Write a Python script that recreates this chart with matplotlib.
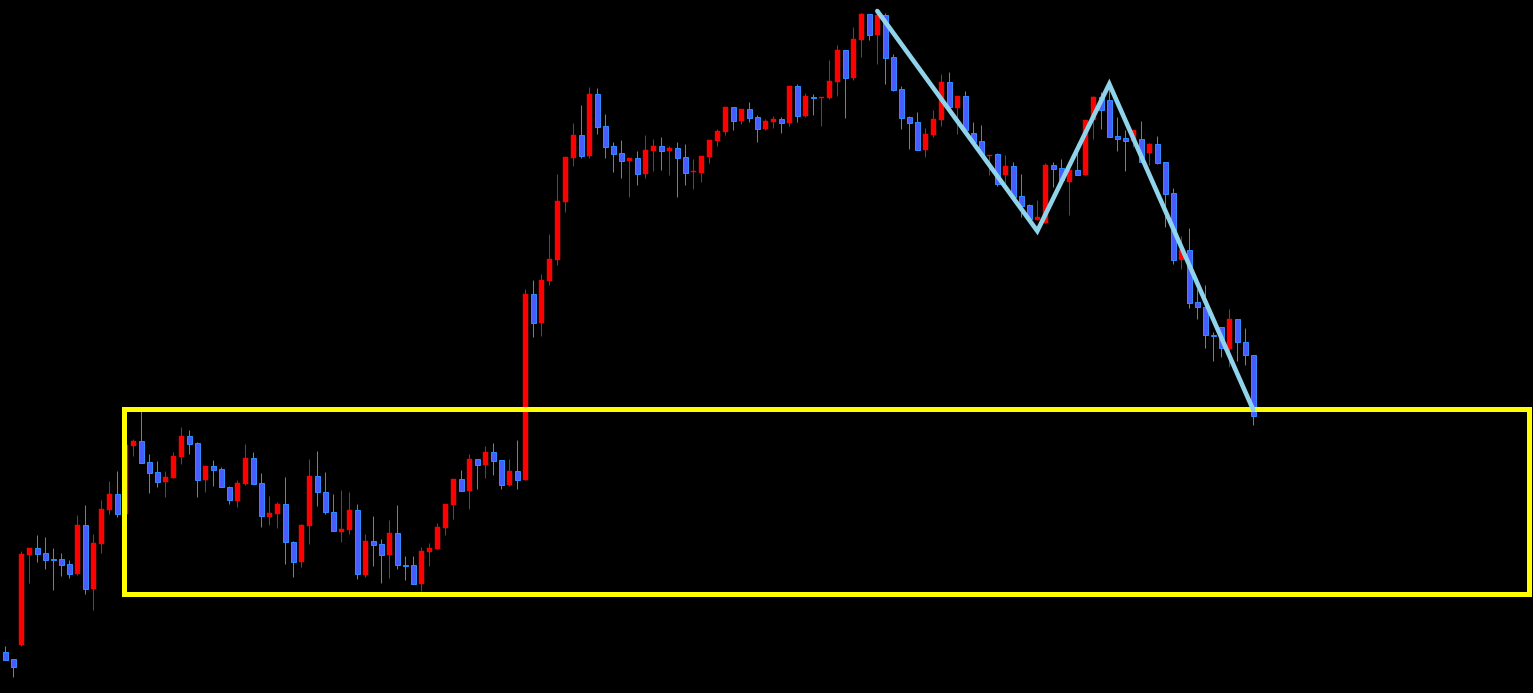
import matplotlib
matplotlib.use("Agg")
import matplotlib.pyplot as plt
from matplotlib.patches import Rectangle

# candle prices (arbitrary units), one entry per bar
opens = [41, 34, 48, 138, 145, 140, 134, 134, 129, 119,
         168, 104, 149, 183, 199, 179, 247, 252, 231, 221,
         211, 215, 236, 257, 250, 213, 227, 224, 206, 192,
         209, 235, 210, 176, 179, 189, 151, 131, 167, 217,
         201, 181, 161, 163, 183, 118, 152, 149, 138, 160,
         128, 128, 109, 141, 144, 165, 188, 214, 202, 234,
         228, 241, 233, 208, 222, 213, 399, 370, 412, 433,
         491, 535, 558, 537, 599, 567, 547, 540, 532, 535,
         519, 542, 547, 542, 545, 536, 521, 520, 536, 552,
         561, 586, 572, 584, 576, 564, 571, 574, 570, 607,
         577, 596, 595, 595, 611, 643, 615, 653, 679, 658,
         678, 636, 604, 576, 571, 543, 558, 573, 611, 585,
         597, 560, 552, 537, 539, 518, 527, 497, 488, 473,
         470, 528, 525, 511, 523, 518, 573, 596, 593, 557,
         555, 552, 554, 540, 549, 531, 500, 433, 443, 391,
         386, 358, 366, 344, 374, 351, 338]
highs = [47, 34, 142, 145, 158, 156, 145, 140, 133, 178,
         188, 159, 193, 212, 222, 253, 254, 282, 239, 232,
         222, 241, 266, 263, 251, 227, 233, 226, 207, 213,
         249, 241, 220, 197, 191, 216, 152, 169, 234, 242,
         221, 199, 203, 201, 189, 159, 177, 154, 173, 188,
         137, 137, 146, 150, 170, 189, 214, 223, 239, 234,
         247, 250, 233, 234, 253, 404, 413, 419, 459, 519,
         536, 570, 588, 606, 605, 579, 551, 553, 535, 542,
         558, 554, 556, 547, 551, 549, 534, 537, 553, 564,
         586, 586, 584, 591, 578, 574, 577, 576, 607, 609,
         600, 599, 596, 633, 648, 643, 666, 680, 679, 680,
         680, 639, 607, 577, 581, 565, 583, 619, 621, 597,
         602, 571, 568, 538, 540, 538, 531, 519, 489, 493,
         530, 531, 534, 523, 549, 573, 597, 601, 609, 576,
         563, 563, 572, 550, 557, 531, 505, 457, 465, 404,
         408, 361, 366, 384, 374, 365, 338]
lows = [33, 16, 47, 110, 131, 124, 103, 117, 115, 118,
        99, 83, 140, 179, 176, 178, 237, 230, 200, 206,
        196, 215, 229, 239, 196, 201, 207, 206, 189, 186,
        208, 209, 166, 168, 165, 129, 116, 126, 149, 187,
        179, 162, 151, 159, 114, 116, 127, 110, 115, 124,
        113, 109, 102, 127, 144, 158, 174, 202, 184, 204,
        215, 218, 204, 207, 204, 213, 356, 357, 408, 428,
        481, 527, 535, 535, 559, 535, 521, 515, 496, 508,
        515, 522, 523, 518, 496, 508, 504, 511, 530, 547,
        558, 563, 569, 571, 551, 563, 565, 560, 567, 571,
        576, 578, 567, 594, 597, 575, 613, 636, 653, 629,
        609, 602, 564, 544, 543, 536, 556, 567, 586, 559,
        563, 551, 539, 518, 507, 509, 496, 476, 474, 473,
        470, 506, 513, 478, 518, 518, 554, 564, 556, 542,
        522, 546, 531, 528, 529, 466, 429, 424, 385, 374,
        345, 332, 336, 326, 332, 328, 268]
closes = [33, 26, 139, 145, 139, 133, 133, 128, 119, 168,
          104, 150, 184, 199, 179, 248, 252, 230, 220, 211,
          216, 237, 257, 249, 213, 227, 223, 206, 193, 210,
          235, 209, 177, 180, 189, 151, 131, 168, 217, 201,
          181, 162, 164, 183, 119, 152, 148, 138, 160, 128,
          127, 109, 142, 145, 166, 189, 214, 202, 234, 228,
          241, 232, 208, 222, 213, 399, 370, 413, 434, 492,
          536, 558, 537, 599, 566, 546, 539, 532, 535, 519,
          543, 547, 542, 545, 535, 520, 522, 537, 553, 562,
          586, 572, 584, 575, 564, 572, 574, 570, 607, 577,
          597, 595, 596, 612, 643, 615, 654, 679, 658, 678,
          635, 603, 575, 570, 543, 559, 574, 611, 586, 597,
          563, 551, 539, 538, 509, 527, 496, 487, 474, 476,
          528, 524, 513, 523, 518, 573, 596, 583, 556, 554,
          552, 563, 531, 549, 530, 499, 433, 443, 390, 386,
          358, 357, 345, 374, 351, 338, 277]

# swing line drawn over the candles: (bar index, price)
swing_idx = [109, 129, 138, 156]
swing_price = [682, 462, 609, 283]

# highlighted zone: bar range and price range
zone_left, zone_right = 14.8, 190.5
zone_low, zone_high = 99.5, 284.5

UP = "#ff0000"
DOWN_FILL = "#4a5cff"
DOWN_EDGE = "#2a8cff"
BG = "#000000"

fig = plt.figure(figsize=(15.33, 6.93), dpi=100, facecolor=BG)
ax = fig.add_axes([0, 0, 1, 1])
ax.set_facecolor(BG)

n = len(opens)
px = 72 / 100  # one pixel in points
body_w = 0.62

for i in range(n):
    o, h, l, c = opens[i], highs[i], lows[i], closes[i]
    up = c >= o
    wick_col = UP if up else DOWN_EDGE
    ax.vlines(i, l, h, color=wick_col, linewidth=px, zorder=2)
    lo = min(o, c)
    height = max(abs(c - o), 1.2)
    if up:
        ax.add_patch(Rectangle((i - body_w / 2, lo), body_w, height,
                               facecolor=UP, edgecolor=UP, linewidth=0.3, zorder=3))
    else:
        ax.add_patch(Rectangle((i - body_w / 2, lo), body_w, height,
                               facecolor=DOWN_FILL, edgecolor=DOWN_EDGE,
                               linewidth=px, zorder=3))

# yellow zone
ax.add_patch(Rectangle((zone_left, zone_low), zone_right - zone_left,
                       zone_high - zone_low, fill=False, edgecolor="#ffff00",
                       linewidth=3.6, zorder=4))

# zigzag
ax.plot(swing_idx, swing_price, "-", color="#8fd4ea", linewidth=3.3,
        solid_capstyle="round", solid_joinstyle="miter", zorder=5)

ax.set_xlim(-0.6625, -0.6625 + 1533 / 8)
ax.set_ylim(0, 693)
ax.axis("off")

plt.savefig("out.png", dpi=100, facecolor=BG)
plt.close(fig)
